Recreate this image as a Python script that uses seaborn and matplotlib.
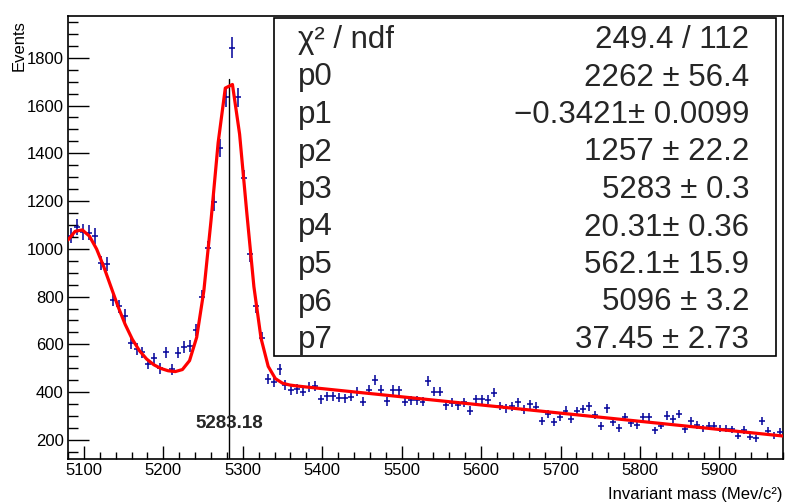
import numpy as np
import pandas as pd
import seaborn as sns
import matplotlib.pyplot as plt
from matplotlib.ticker import MultipleLocator

# histogram: 120 bins of 7.5 MeV from 5080 to 5980
bin_lo = 5080.0
bin_width = 7.5
counts = [
    1055, 1090, 1070, 1068, 1053, 940, 936, 787, 760, 720,
    606, 580, 567, 518, 542, 500, 567, 496, 565, 590,
    592, 659, 800, 1002, 1195, 1423, 1634, 1843, 1634, 1296,
    977, 760, 625, 455, 444, 496, 430, 410, 414, 402,
    420, 424, 370, 383, 383, 376, 374, 381, 402, 360,
    410, 450, 409, 362, 408, 407, 360, 366, 366, 360,
    447, 402, 402, 345, 355, 345, 357, 323, 370, 370,
    369, 398, 342, 332, 340, 358, 326, 350, 339, 278,
    309, 276, 297, 323, 286, 320, 330, 340, 304, 259,
    332, 274, 249, 297, 270, 262, 295, 295, 240, 260,
    302, 287, 308, 244, 280, 261, 248, 260, 260, 247,
    247, 244, 217, 242, 214, 207, 278, 238, 220, 235,
]

# fit results (pol1 + gaus + gaus) as printed in the stats box
par_names = ["p0", "p1", "p2", "p3", "p4", "p5", "p6", "p7"]
par_values = [2262, -0.3421, 1257, 5283.18, 20.31, 562.1, 5096, 37.45]
par_labels = ["2262 ± 56.4", "\u22120.3421± 0.0099", "1257 ± 22.2", "5283 ± 0.3",
              "20.31± 0.36", "562.1± 15.9", "5096 ± 3.2", "37.45 ± 2.73"]
chi2_label = "249.4 / 112"
peak_label = "5283.18"


def fit_func(x, p):
    return (p[0] + p[1] * x
            + p[2] * np.exp(-0.5 * ((x - p[3]) / p[4]) ** 2)
            + p[5] * np.exp(-0.5 * ((x - p[6]) / p[7]) ** 2))


centers = bin_lo + bin_width * (np.arange(len(counts)) + 0.5)
df = pd.DataFrame({"mass": centers, "events": counts})
df["err"] = np.sqrt(df["events"])

xf = np.linspace(5080, 5980, 101)
fit_df = pd.DataFrame({"mass": xf, "fit": fit_func(xf, par_values)})

sns.set_style("ticks")
plt.rcParams["font.family"] = ["Liberation Sans", "DejaVu Sans"]

fig = plt.figure(figsize=(7.89, 5.03), dpi=100)
ax = fig.add_axes([68 / 789, 1 - 459 / 503, (783 - 68) / 789, (459 - 16) / 503])

ax.errorbar(df["mass"], df["events"], yerr=df["err"], xerr=bin_width / 2,
            fmt="none", ecolor="#000099", elinewidth=1.1, capsize=0, zorder=3)
sns.lineplot(data=fit_df, x="mass", y="fit", color="red", linewidth=2.3,
             ax=ax, zorder=4)

ymin, ymax = 120, 1975
peak_y = fit_func(par_values[3], par_values)
ax.plot([par_values[3], par_values[3]], [ymin, peak_y], color="black", lw=1.0, zorder=2)
ax.text(par_values[3], 268, peak_label, ha="center", va="center",
        fontsize=13.5, fontweight="bold")

ax.set_xlim(5080, 5980)
ax.set_ylim(ymin, ymax)
ax.xaxis.set_major_locator(MultipleLocator(100))
ax.xaxis.set_minor_locator(MultipleLocator(20))
ax.set_yticks(np.arange(200, 1801, 200))
ax.yaxis.set_minor_locator(MultipleLocator(50))
ax.tick_params(axis="both", which="both", direction="in", labelsize=12, width=1,
               color="black", labelcolor="black")
ax.tick_params(axis="y", which="major", length=15, pad=3)
ax.tick_params(axis="y", which="minor", length=7.5)
ax.tick_params(axis="x", which="major", length=9.5, pad=3)
ax.tick_params(axis="x", which="minor", length=4.7)
for s in ax.spines.values():
    s.set_linewidth(1.2)
    s.set_color("black")

ax.set_xlabel("Invariant mass (Mev/c²)", fontsize=12, loc="right", labelpad=6,
              color="black")
ax.set_ylabel("Events", fontsize=12, loc="top", color="black")
ax.yaxis.set_label_coords(-0.058, 0.99)

# stats box
bx0, bx1 = (274 - 68) / 715, (776 - 68) / 715
by0, by1 = (459 - 356) / 443, (459 - 18) / 443
ax.add_patch(plt.Rectangle((bx0, by0), bx1 - bx0, by1 - by0, transform=ax.transAxes,
                           facecolor="white", edgecolor="black", lw=1.2, zorder=5))
rows = [("χ² / ndf", chi2_label)] + list(zip(par_names, par_labels))
for k, (name, val) in enumerate(rows):
    yy = (459 - (40 + 37.5 * k)) / 443
    ax.text((298 - 68) / 715, yy, name, transform=ax.transAxes, ha="left",
            va="center", fontsize=22.5, zorder=6)
    ax.text((749 - 68) / 715, yy, val, transform=ax.transAxes, ha="right",
            va="center", fontsize=22.5, zorder=6)

fig.savefig("out.png", dpi=100)
